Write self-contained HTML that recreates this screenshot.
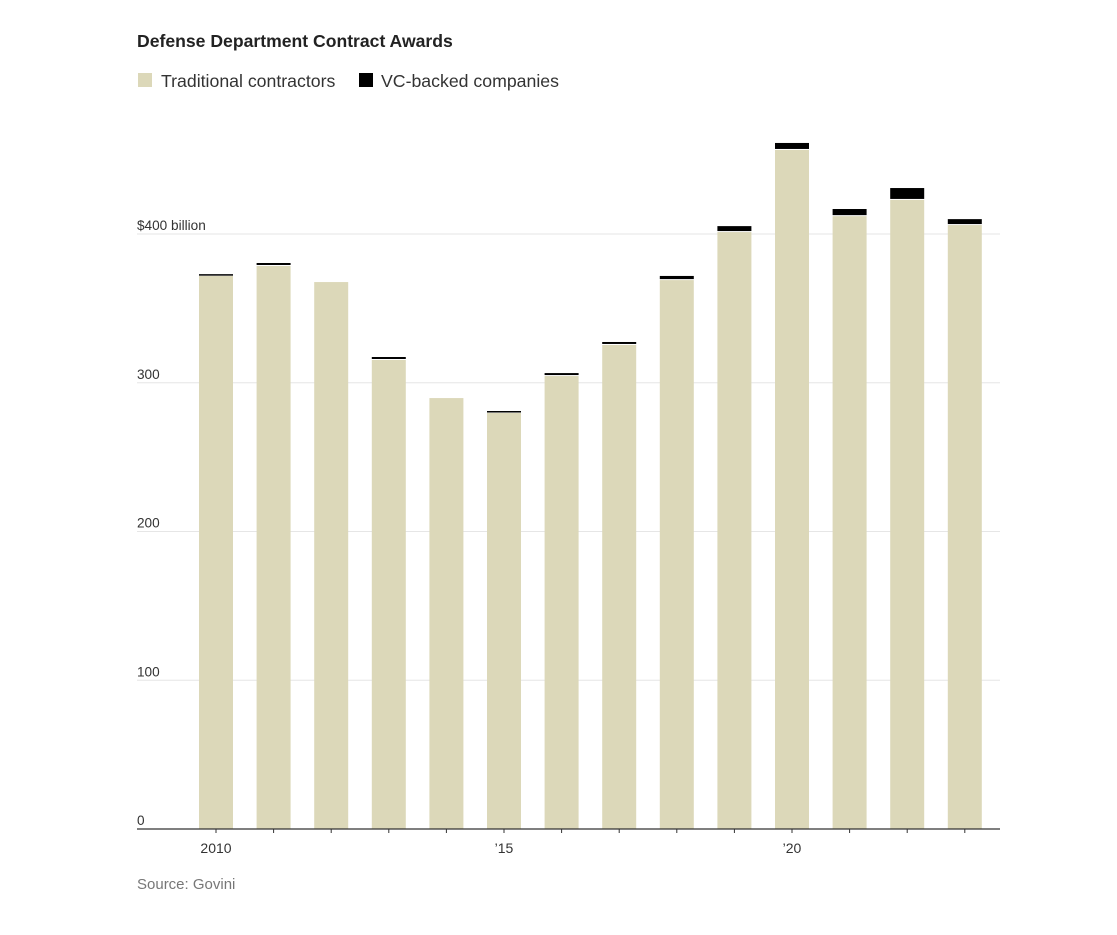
<!DOCTYPE html>
<html><head><meta charset="utf-8"><style>
body{margin:0;background:#fff;font-family:"Liberation Sans",sans-serif;}
svg{display:block}
</style></head><body>
<svg width="1117" height="935" viewBox="0 0 1117 935">
<text x="137" y="47" font-size="17.6" font-weight="bold" fill="#222">Defense Department Contract Awards</text>
<g>
<rect x="138" y="73" width="14" height="14" fill="#dcd8b9"/>
<text x="161" y="87" font-size="17.7" fill="#333">Traditional contractors</text>
<rect x="359" y="73" width="14" height="14" fill="#000"/>
<text x="381" y="87" font-size="17.7" fill="#333">VC-backed companies</text>
</g>
<g id="plot"></g>
<text x="137" y="889" font-size="15" fill="#777">Source: Govini</text>
</svg>
<script>
const years=[2010,2011,2012,2013,2014,2015,2016,2017,2018,2019,2020,2021,2022,2023];
const traditional=[371.8,378.5,367.7,315.3,289.7,279.7,304.5,325.4,369,401.3,456.5,412,422.9,406];
const vcBacked=[1.2,2,0,2,0,1.3,2,2,2.8,4,4.7,4.8,8,4];
const yTicks=[0,100,200,300,400];
const yTickLabels=["0","100","200","300","$400 billion"];
const xLabelYears=[2010,2015,2020];
const xLabels=["2010","’15","’20"];
const NS="http://www.w3.org/2000/svg";
const g=document.getElementById('plot');
const y0=829,pxPer=1.4875,left=137,right=1000;
const y=v=>y0-v*pxPer;
const x=yr=>216+(yr-2010)*57.6;
function mk(t,a){const e=document.createElementNS(NS,t);for(const k in a)e.setAttribute(k,a[k]);g.appendChild(e);return e;}
yTicks.forEach((v,i)=>{
 if(v>0){const l=mk('line',{x1:left,x2:right,y1:y(v),y2:y(v),stroke:'#e6e6e6','stroke-width':1});
 
 }
 const t=mk('text',{x:left,y:y(v)-4,'font-size':13.6,fill:'#333'});
 t.textContent=yTickLabels[i];
 
 
});
years.forEach((yr,i)=>{
 const w=34,cx=x(yr);
 const b=mk('rect',{x:cx-w/2,y:y(traditional[i]),width:w,height:traditional[i]*pxPer,fill:'#dcd8b9'});
 
 
 if(vcBacked[i]>0){
  const top=y(traditional[i]+vcBacked[i]);
  const v=mk('rect',{x:cx-w/2,y:top,width:w,height:Math.max(1.5,vcBacked[i]*pxPer-1),fill:'#000'});
  
  
 }
 const tk=mk('line',{x1:cx,x2:cx,y1:y0,y2:y0+4,stroke:'#333'});
 
 
});
const ax=mk('line',{x1:left,x2:right,y1:y0,y2:y0,stroke:'#333','stroke-width':1.2});


xLabelYears.forEach((yr,i)=>{
 const t=mk('text',{x:x(yr),y:853,'font-size':14,fill:'#333','text-anchor':'middle'});
 t.textContent=xLabels[i];
 
 
});
</script>
</body></html>
